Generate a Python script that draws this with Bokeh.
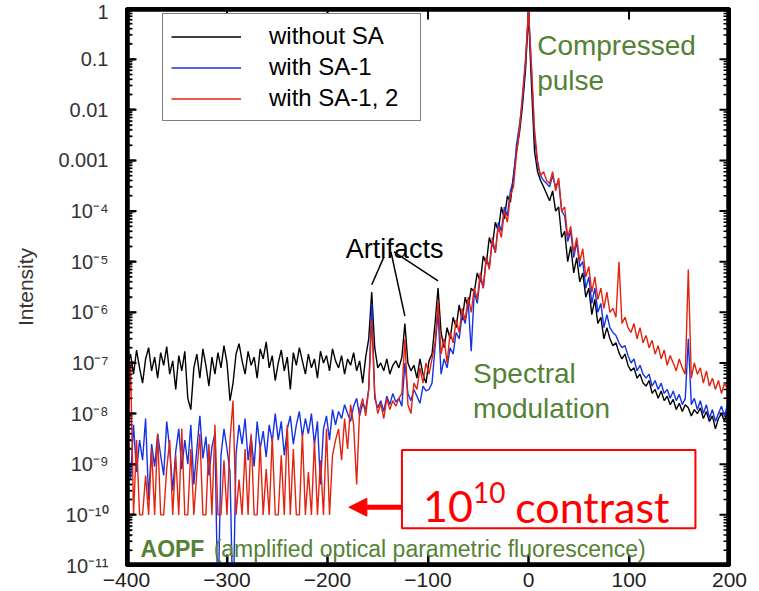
from bokeh.plotting import figure
from bokeh.models import (Range1d, FixedTicker, CustomJSTickFormatter,
                          Legend, LegendItem, Label, BoxAnnotation, Arrow, NormalHead)
from bokeh.embed import file_html
from bokeh.resources import INLINE

# ---------------- data ----------------
delay_ps = list(range(-399, 199, 3))   # sample grid, -399 ... 198

without_sa = [
    9e-8, 1.5e-7, 6e-8, 1.8e-7, 8e-8, 4e-8, 1.2e-7, 2e-7, 7e-8, 1.3e-7,
    5e-8, 1.6e-7, 9e-8, 2.1e-7, 6e-8, 1.1e-7, 3e-8, 1.4e-7, 7e-8, 1.7e-7,
    2e-8, 1.2e-8, 8e-8, 1.5e-7, 5e-8, 1.9e-7, 9e-8, 3.5e-8, 1.3e-7, 6e-8,
    1.6e-7, 8e-8, 2.2e-7, 1e-7, 1.8e-8, 4e-8, 1.5e-7, 2.4e-7, 1.1e-7, 6e-8,
    1.7e-7, 9e-8, 1.3e-7, 5e-8, 1.9e-7, 1.2e-7, 2.6e-7, 8e-8, 1.4e-7, 4.5e-8,
    1e-7, 1.8e-7, 7e-8, 1.3e-7, 3e-8, 1.6e-7, 9e-8, 2e-7, 1.1e-7, 6e-8,
    1.5e-7, 8e-8, 1.2e-7, 5e-8, 1.7e-7, 1e-7, 1.4e-7, 7e-8, 1.9e-7, 1.1e-7,
    8e-8, 1.4e-7, 6e-8, 1.2e-7, 9e-8, 1.6e-7, 7e-8, 1.1e-7, 4e-8, 1.3e-7,
    3e-7, 2.5e-6, 2e-7, 8e-8, 1e-7, 7e-8, 1.2e-7, 6e-8, 9e-8, 1.1e-7,
    8e-8, 1.3e-7, 6e-7, 1e-7, 7e-8, 9e-8, 5e-8, 1.2e-7, 6e-8, 4e-8,
    1.1e-7, 1.5e-7, 6e-7, 3e-6, 4e-7, 2e-7, 5e-7, 3e-7, 8e-7, 5e-7,
    1.4e-6, 7e-7, 2e-6, 1.2e-6, 3e-6, 2.5e-6, 6e-6, 4e-6, 1.3e-5, 9e-6,
    3e-5, 2e-5, 6e-5, 4e-5, 1.2e-4, 7e-5, 2e-4, 1.5e-4, 5e-4, 1.5e-3,
    3.5e-3, 1.2e-2, 6e-2, 0.8, 3e-2, 1.5e-3, 6e-4, 4e-4, 3e-4, 2.2e-4,
    1.6e-4, 2.5e-4, 1e-4, 1.2e-4, 3e-5, 4e-5, 1e-5, 2e-5, 6e-6, 1.2e-5,
    4e-6, 6e-6, 2e-6, 3e-6, 9e-7, 1.8e-6, 6e-7, 8e-7, 3e-7, 5e-7,
    3e-7, 2.2e-7, 2.5e-7, 1.6e-7, 1.2e-7, 1.5e-7, 9e-8, 7e-8, 8e-8, 5e-8,
    6e-8, 4e-8, 3.5e-8, 4.5e-8, 2.5e-8, 3e-8, 2e-8, 2.8e-8, 1.8e-8, 2.2e-8,
    1.5e-8, 1.9e-8, 1.2e-8, 1.6e-8, 1.1e-8, 1.5e-8, 1.3e-8, 9e-9, 1.2e-8, 1e-8,
    1.3e-8, 8e-9, 1.1e-8, 7e-9, 9e-9, 5e-9, 8e-9, 1e-8, 7e-9, 1.1e-8,
]

with_sa1 = [
    1.5e-9, 5e-10, 6e-9, 7e-10, 3e-9, 1.2e-9, 8e-9, 2e-10, 2.5e-9, 9e-10,
    4e-9, 1.5e-9, 6e-10, 7e-9, 2e-9, 3e-10, 1.8e-9, 5e-9, 8e-10, 3e-9,
    1e-9, 6e-9, 4e-10, 2e-9, 9e-9, 1.3e-9, 3.5e-9, 6e-10, 2.2e-9, 4e-9,
    1e-12, 1.5e-9, 5e-9, 2e-9, 7e-10, 1e-12, 1.6e-9, 6e-9, 2.5e-9, 8e-9,
    1.2e-9, 3.5e-9, 9e-10, 7e-9, 2e-9, 4.5e-9, 1.4e-9, 6e-9, 2.8e-9, 1e-8,
    3e-9, 7e-9, 1.5e-9, 5e-9, 9e-9, 2.5e-9, 6e-9, 1.1e-8, 3.5e-9, 8e-9,
    4e-9, 1e-8, 2.5e-9, 7e-9, 4e-10, 5e-9, 9e-9, 3e-9, 1.2e-8, 6e-9,
    1.1e-8, 8e-9, 1.5e-8, 1e-8, 7e-9, 1.4e-8, 2e-8, 9e-9, 1.6e-8, 1.2e-8,
    3e-8, 1.5e-6, 2e-8, 1.3e-8, 1.8e-8, 1.1e-8, 2.2e-8, 1.5e-8, 2.5e-8, 1.7e-8,
    2e-8, 1.4e-8, 1e-7, 2.5e-8, 1.8e-8, 3e-8, 2.2e-8, 1.6e-8, 3.5e-8, 2.8e-8,
    3e-8, 4e-8, 2e-7, 1e-6, 6e-8, 1.2e-7, 8e-8, 2e-7, 1.5e-7, 4e-7,
    3e-7, 9e-7, 6e-7, 1.6e-6, 1.7e-7, 2.5e-6, 1.5e-6, 5e-6, 3e-6, 1.2e-5,
    8e-6, 2.5e-5, 1.5e-5, 6e-5, 4e-5, 1.2e-4, 8e-5, 2.5e-4, 4e-4, 2e-3,
    5e-3, 1.5e-2, 8e-2, 0.9, 6e-2, 3e-3, 8e-4, 5e-4, 4e-4, 3.5e-4,
    3e-4, 5e-4, 3e-4, 4e-4, 1e-4, 8e-5, 2.5e-5, 4e-5, 1.2e-5, 2.5e-5,
    8e-6, 1e-5, 3e-6, 5e-6, 1.5e-6, 3e-6, 1e-6, 1.5e-6, 5e-7, 9e-7,
    5e-7, 4e-7, 3.5e-7, 2.5e-7, 2e-7, 2.2e-7, 1.4e-7, 1e-7, 1.2e-7, 7e-8,
    9e-8, 6e-8, 5e-8, 6e-8, 3.5e-8, 4.5e-8, 3e-8, 4e-8, 2.5e-8, 3e-8,
    2e-8, 2.8e-8, 1.8e-8, 2.4e-8, 1.5e-8, 2e-8, 3e-7, 1.5e-8, 2e-8, 1.2e-8,
    1.8e-8, 1e-8, 1.5e-8, 8e-9, 1.2e-8, 7e-9, 1e-8, 1.4e-8, 9e-9, 1.5e-8,
]

with_sa12 = [
    2e-9, 1e-7, 1e-10, 3e-9, 1e-10, 1e-10, 6e-10, 1e-10, 2e-9, 1e-10,
    4e-9, 1e-10, 1e-10, 8e-10, 3e-9, 1e-10, 1.5e-9, 1e-10, 5e-9, 1e-10,
    1e-10, 2e-9, 1e-10, 7e-10, 4e-9, 1e-10, 1e-10, 2.5e-9, 1e-10, 6e-9,
    1e-10, 1e-10, 1.2e-9, 1e-10, 3e-9, 1.8e-8, 1e-10, 5e-10, 1e-10, 2e-9,
    1e-10, 4e-9, 1e-10, 1e-10, 2.5e-9, 1e-10, 8e-10, 1e-10, 3.5e-9, 1e-10,
    1e-10, 1.5e-9, 1e-10, 6e-9, 1e-10, 2e-9, 1e-10, 1e-10, 4e-9, 1e-10,
    7e-10, 1e-10, 3e-9, 1e-10, 1.2e-9, 1e-10, 5e-9, 1e-10, 1.5e-9, 3e-9,
    5e-9, 1.2e-9, 8e-9, 2e-9, 1.5e-8, 6e-9, 4e-10, 1.2e-8, 2e-8, 9e-9,
    3e-8, 7e-7, 2.5e-8, 1e-8, 1.6e-8, 8e-9, 2e-8, 1.2e-8, 1.8e-8, 1.4e-8,
    2e-8, 2.5e-8, 3e-7, 1.5e-8, 1e-8, 4e-8, 3e-8, 8e-8, 4e-8, 1e-7,
    6e-8, 1.2e-7, 2.5e-7, 1.7e-6, 1.5e-7, 3e-7, 1e-7, 4e-7, 2.5e-7, 7e-7,
    4e-7, 1.2e-6, 7e-7, 2e-6, 1e-6, 3e-6, 1.8e-6, 6e-6, 3e-6, 1.2e-5,
    7e-6, 3e-5, 1.5e-5, 5e-5, 3e-5, 1e-4, 6e-5, 2e-4, 3e-4, 1.3e-3,
    4e-3, 2e-2, 1e-1, 0.95, 7e-2, 4e-3, 1e-3, 5e-4, 6e-4, 4e-4,
    3.5e-4, 6e-4, 2.5e-4, 4.5e-4, 1e-4, 1.2e-4, 3e-5, 5e-5, 1.5e-5, 3e-5,
    1e-5, 1.8e-5, 5e-6, 8e-6, 2.5e-6, 5e-6, 1.8e-6, 3e-6, 1.2e-6, 2.5e-6,
    1e-6, 1.2e-6, 8e-7, 1e-5, 6e-7, 8e-7, 5e-7, 4e-7, 6e-7, 3e-7,
    5e-7, 2.5e-7, 3.5e-7, 2e-7, 2.8e-7, 1.5e-7, 2.2e-7, 1.2e-7, 1.8e-7, 9e-8,
    1.4e-7, 1e-7, 7e-8, 1.2e-7, 8e-8, 6e-8, 7e-6, 5e-8, 1e-7, 6e-8,
    8e-8, 4e-8, 7e-8, 3.5e-8, 5e-8, 3e-8, 4.5e-8, 2.5e-8, 4e-8, 3e-8,
]

series_labels = ["without SA", "with SA-1", "with SA-1, 2"]
series_colors = ["#000000", "#1432e6", "#e3230f"]
x_ticks = [-400, -300, -200, -100, 0, 100, 200]
y_exponents = list(range(-11, 1))
y_tick_labels = ["1", "0.1", "0.01", "0.001", "10⁻⁴", "10⁻⁵", "10⁻⁶",
                 "10⁻⁷", "10⁻⁸", "10⁻⁹", "10⁻¹⁰", "10⁻¹¹"]
artifact_delays = [-156, -123, -90]

FONT = "Liberation Sans"
GREEN = "#548235"
RED = "#ff0000"
X0, X1, Y0, Y1 = -400, 200, 1e-11, 1

# ---------------- figure ----------------
p = figure(width=759, height=591, x_range=Range1d(X0, X1), y_range=Range1d(Y0, Y1),
           y_axis_type="log", output_backend="svg", toolbar_location=None,
           min_border_left=126, min_border_right=30, min_border_top=8, min_border_bottom=26)
p.xgrid.visible = False
p.ygrid.visible = False
p.outline_line_color = "black"
p.outline_line_width = 3

major_y = [10.0 ** e for e in y_exponents]
minor_y = [k * 10.0 ** e for e in y_exponents[:-1] for k in range(2, 10)]

xa = p.below[0]
xa.ticker = FixedTicker(ticks=x_ticks)
xa.axis_line_width = 3
xa.major_tick_line_width = 2
xa.minor_tick_line_color = None
xa.major_tick_in = 10
xa.major_tick_out = 0
xa.major_label_text_font = FONT
xa.major_label_text_font_size = "21px"
xa.major_label_text_color = "#222222"
xa.major_label_standoff = 7

ya = p.left[0]
ya.ticker = FixedTicker(ticks=major_y, minor_ticks=minor_y)
ya.formatter = CustomJSTickFormatter(
    args=dict(labels=y_tick_labels),
    code="const e = Math.round(-Math.log10(tick)); return (e >= 0 && e < labels.length) ? labels[e] : '';")
ya.axis_line_width = 3
ya.major_tick_line_width = 2
ya.minor_tick_line_width = 1.5
ya.major_tick_in = 9
ya.major_tick_out = 0
ya.minor_tick_in = 5
ya.minor_tick_out = 0
ya.major_label_text_font = FONT
ya.major_label_text_font_size = "20px"
ya.major_label_text_color = "#333333"
ya.major_label_standoff = 18
ya.axis_label = "Intensity"
ya.axis_label_text_font = FONT
ya.axis_label_text_font_size = "21px"
ya.axis_label_text_font_style = "normal"
ya.axis_label_text_color = "#333333"
ya.axis_label_standoff = 18

# ---------------- frame with inward ticks (drawn just inside the plot area) ----------------
def dx(px):
    return px * (X1 - X0) / 602

def fy(px):
    return 10 ** (px / 50.36)

p.add_layout(BoxAnnotation(fill_alpha=0, line_color="black", line_alpha=1, line_width=6))
fx0, fx1, fy0, fy1 = X0 + dx(1.5), X1 - dx(1.5), Y0 * fy(1.5), Y1 / fy(1.5)
p.segment(x0=[fx0, fx1, fx0, fx0], y0=[fy0, fy0, fy0, fy1], x1=[fx0, fx1, fx1, fx1],
          y1=[fy1, fy1, fy0, fy1], line_color="black", line_width=3)
inner_y = major_y[1:-1]
n = len(inner_y)
p.segment(x0=[X0 + dx(2)] * n + [X1 - dx(2)] * n, y0=inner_y * 2,
          x1=[X0 + dx(10)] * n + [X1 - dx(10)] * n, y1=inner_y * 2,
          line_color="black", line_width=2)
m = len(minor_y)
p.segment(x0=[X0 + dx(2)] * m + [X1 - dx(2)] * m, y0=minor_y * 2,
          x1=[X0 + dx(6)] * m + [X1 - dx(6)] * m, y1=minor_y * 2,
          line_color="black", line_width=1.5)
inner_x = x_ticks[1:-1]
k = len(inner_x)
p.segment(x0=inner_x * 2, y0=[Y0 * fy(2)] * k + [Y1 / fy(2)] * k,
          x1=inner_x * 2, y1=[Y0 * fy(11)] * k + [Y1 / fy(11)] * k,
          line_color="black", line_width=2)

# ---------------- traces ----------------
renderers = []
for ys, col in zip([without_sa, with_sa1, with_sa12], series_colors):
    renderers.append(p.line(delay_ps, ys, line_color=col, line_width=1.4))

legend = Legend(items=[LegendItem(label=l, renderers=[r]) for l, r in zip(series_labels, renderers)],
                location=(36, 444), orientation="vertical",
                label_text_font=FONT, label_text_font_size="24px", label_text_color="black",
                glyph_width=70, glyph_height=27, label_height=27, label_standoff=28,
                label_width=143, padding=8, spacing=3, margin=0,
                border_line_color="black", border_line_width=1.5,
                background_fill_color="white", background_fill_alpha=1)
p.add_layout(legend)

# ---------------- annotations ----------------
def px_x(px):
    return (px - 126) * 600 / 602 - 400

def px_y(py):
    return 10 ** (-(py - 8) / 50.36)

for txt, px, py in [("Compressed", 536, 45), ("pulse", 536, 80),
                    ("Spectral", 472, 371), ("modulation", 472, 406)]:
    p.add_layout(Label(x=px_x(px), y=px_y(py), text=txt, text_font=FONT,
                       text_font_size="28px", text_color=GREEN, text_baseline="alphabetic"))

p.add_layout(Label(x=px_x(140), y=px_y(546), text="AOPF", text_font=FONT,
                   text_font_size="23px", text_font_style="bold", text_color=GREEN,
                   text_baseline="alphabetic"))
p.add_layout(Label(x=px_x(213), y=px_y(546), text="(amplified optical parametric fluorescence)",
                   text_font=FONT, text_font_size="23px", text_color=GREEN,
                   text_baseline="alphabetic"))

p.add_layout(Label(x=px_x(345), y=px_y(247), text="Artifacts", text_font=FONT,
                   text_font_size="27px", text_color="black", text_baseline="alphabetic"))
starts = [(383, 255), (390, 250), (393, 250)]
x1, y1 = [], []
for d in artifact_delays:
    i = delay_ps.index(d)
    x1.append(d)
    y1.append(without_sa[i] * 1.4)
p.segment(x0=[px_x(s[0]) for s in starts], y0=[px_y(s[1]) for s in starts],
          x1=x1, y1=y1, line_color="black", line_width=1.5)

p.add_layout(BoxAnnotation(left=px_x(401), right=px_x(694), top=px_y(447), bottom=px_y(525),
                           fill_color="white", fill_alpha=1, line_color=RED, line_alpha=1,
                           line_width=2))
p.add_layout(Label(x=px_x(422), y=px_y(503), text="10", text_font="Lato",
                   text_font_size="43px", text_color=RED, text_baseline="alphabetic"))
p.add_layout(Label(x=px_x(472), y=px_y(489), text="10", text_font="Lato",
                   text_font_size="28px", text_color=RED, text_baseline="alphabetic"))
p.add_layout(Label(x=px_x(514), y=px_y(503), text="contrast", text_font="Lato",
                   text_font_size="43px", text_color=RED, text_baseline="alphabetic"))
p.add_layout(Arrow(end=NormalHead(size=18, fill_color=RED, line_color=RED),
                   x_start=px_x(401), y_start=px_y(504), x_end=px_x(348), y_end=px_y(504),
                   line_color=RED, line_width=5))

open("out.html", "w").write(file_html(p, INLINE))
